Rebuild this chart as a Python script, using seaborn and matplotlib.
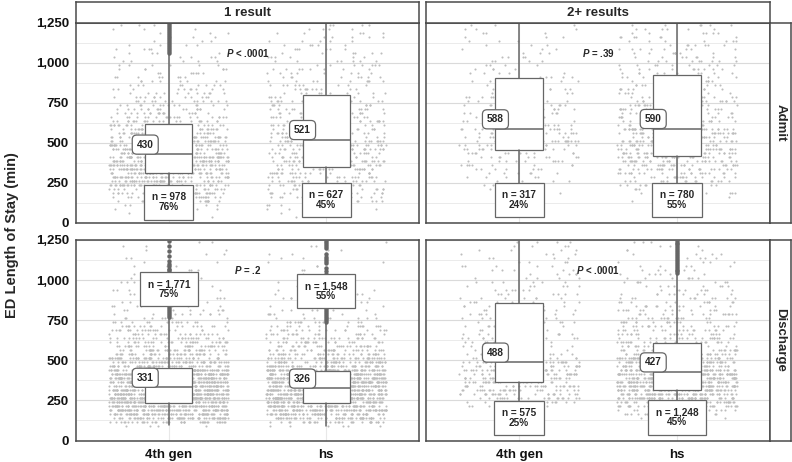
import numpy as np
import pandas as pd
import matplotlib
matplotlib.use("Agg")
import matplotlib.pyplot as plt
from matplotlib.ticker import MultipleLocator, FuncFormatter
import seaborn as sns

# -------------------- data --------------------
DEVICES = ["4th gen", "hs"]
RESULT_GROUPS = ["1 result", "2+ results"]
OUTCOMES = ["Admit", "Discharge"]
P_TEXT = ["< .0001", "= .39", "= .2", "< .0001"]   # panel order: TL, TR, BL, BR

BIN_WIDTH = 25   # point counts per 25-min bin, 0..1250
admit_1_4g = [0, 1, 3, 6, 10, 16, 22, 28, 33, 38,
              42, 46, 50, 50, 50, 50, 50, 45, 38, 36,
              34, 32, 30, 28, 26, 22, 20, 18, 16, 14,
              13, 12, 11, 10, 9, 8, 8, 7, 6, 6,
              5, 5, 4, 4, 4, 3, 3, 3, 3, 3]
admit_1_hs = [0, 1, 2, 3, 5, 7, 9, 11, 13, 15,
              17, 18, 19, 20, 22, 22, 22, 22, 22, 22,
              22, 16, 16, 15, 15, 14, 14, 14, 13, 13,
              12, 12, 10, 10, 9, 9, 8, 8, 8, 7,
              7, 6, 6, 6, 5, 5, 5, 5, 4, 4]
admit_2_4g = [0, 0, 0, 0, 0, 0, 0, 1, 2, 3,
              4, 5, 6, 7, 8, 9, 10, 11, 12, 16,
              16, 16, 16, 16, 8, 8, 7, 7, 7, 7,
              6, 6, 6, 6, 6, 5, 5, 5, 4, 4,
              4, 4, 3, 3, 3, 3, 3, 3, 3, 3]
admit_2_hs = [0, 0, 0, 0, 0, 2, 4, 6, 9, 12,
              15, 18, 20, 22, 24, 26, 27, 28, 28, 28,
              28, 28, 28, 28, 18, 18, 17, 17, 16, 16,
              15, 15, 14, 14, 13, 12, 11, 10, 10, 9,
              9, 8, 8, 8, 7, 7, 7, 6, 6, 6]
disch_1_4g = [0, 0, 0, 4, 38, 62, 76, 85, 90, 88,
              110, 110, 110, 110, 105, 100, 95, 90, 55, 50,
              45, 40, 36, 32, 28, 25, 22, 20, 18, 16,
              10, 9, 8, 7, 6, 6, 5, 5, 4, 4,
              3, 3, 3, 3, 2, 2, 2, 2, 2, 2]
disch_1_hs = [0, 0, 0, 6, 30, 52, 66, 76, 80, 75,
              97, 97, 97, 97, 100, 96, 92, 88, 58, 46,
              40, 35, 31, 27, 24, 21, 19, 17, 15, 13,
              8, 7, 6, 6, 5, 5, 4, 4, 3, 3,
              2, 2, 2, 2, 2, 2, 2, 2, 2, 2]
disch_2_4g = [0, 0, 0, 0, 0, 0, 0, 0, 8, 14,
              20, 24, 26, 27, 25, 29, 29, 29, 29, 29,
              12, 12, 11, 11, 10, 10, 10, 9, 9, 9,
              9, 8, 8, 8, 8, 7, 7, 6, 6, 6,
              5, 5, 5, 5, 4, 4, 4, 4, 4, 4]
disch_2_hs = [0, 0, 0, 0, 0, 3, 10, 22, 36, 48,
              58, 64, 70, 78, 78, 78, 78, 60, 50, 44,
              40, 36, 32, 28, 22, 20, 19, 18, 17, 16,
              15, 14, 13, 12, 11, 10, 9, 8, 8, 7,
              7, 6, 5, 5, 4, 4, 4, 3, 3, 3]

# group order: admit 1 (4g, hs), admit 2+ (4g, hs), discharge 1 (4g, hs), discharge 2+ (4g, hs)
medians = [430, 521, 588, 590, 331, 326, 488, 427]
q1 = [310, 347, 458, 416, 236, 233, 367, 317]
q3 = [617, 797, 905, 922, 452, 433, 858, 608]
whislo = [60, 40, 190, 130, 94, 90, 200, 145]
whishi = [1060, 1400, 1400, 1400, 765, 735, 1400, 1040]
n_obs = [978, 627, 317, 780, 1771, 1548, 575, 1248]
pct = [76, 45, 24, 55, 75, 55, 25, 45]
n_label_y = [130, 143, 143, 143, 944, 931, 141, 145]

fliers_admit_1_4g = [1065, 1078, 1090, 1103, 1115, 1128, 1140, 1153, 1165, 1178,
                     1190, 1203, 1215, 1228, 1240, 1250]
fliers_disch_1_4g = [772, 784, 796, 808, 820, 832, 844, 856, 868, 880, 892, 904,
                     916, 928, 940, 952, 964, 976, 988, 1000, 1012, 1024, 1036,
                     1048, 1060, 1072, 1085, 1098, 1119, 1150, 1181, 1212, 1244]
fliers_disch_1_hs = [740, 752, 764, 776, 788, 800, 812, 824, 836, 848, 860, 872,
                     884, 896, 908, 920, 932, 944, 956, 968, 980, 1000, 1018, 1037,
                     1056, 1077, 1108, 1120, 1134, 1147, 1160, 1202, 1214, 1226,
                     1238, 1250]
fliers_disch_2_hs = [1042, 1054, 1066, 1078, 1090, 1102, 1114, 1126, 1138, 1150,
                     1162, 1174, 1186, 1198, 1210, 1222, 1234, 1246]
# ------------------------------------------------------------------

counts = [admit_1_4g, admit_1_hs, admit_2_4g, admit_2_hs,
          disch_1_4g, disch_1_hs, disch_2_4g, disch_2_hs]
fliers = [fliers_admit_1_4g, [], [], [], fliers_disch_1_4g, fliers_disch_1_hs, [], fliers_disch_2_hs]

centers = np.arange(len(admit_1_4g)) * BIN_WIDTH + BIN_WIDTH / 2
rows = []
g = 0
for outcome in OUTCOMES:
    for res in RESULT_GROUPS:
        for dev in DEVICES:
            vals = np.repeat(centers, counts[g])
            rows.append(pd.DataFrame({"outcome": outcome, "results": res, "device": dev, "los": vals}))
            g += 1
df = pd.concat(rows, ignore_index=True)

sns.set_style("white")
plt.rcParams["font.family"] = ["Liberation Sans", "DejaVu Sans"]
plt.rcParams["font.weight"] = "bold"
plt.rcParams["mathtext.fontset"] = "custom"
plt.rcParams["mathtext.it"] = "Liberation Sans:italic:bold"
plt.rcParams["mathtext.rm"] = "Liberation Sans:bold"

W, H = 792, 462
fig = plt.figure(figsize=(W / 100, H / 100), dpi=100)

def px_axes(x0, y0, x1, y1):
    return fig.add_axes([x0 / W, 1 - y1 / H, (x1 - x0) / W, (y1 - y0) / H])

EDGE = "#4a4a4a"
LINE = "#666666"
col_px = [(76, 419), (426, 770)]
row_px = [(23, 223), (240, 440.5)]

g = 0
panel = 0
for r, outcome in enumerate(OUTCOMES):
    for c, res in enumerate(RESULT_GROUPS):
        ax = px_axes(col_px[c][0], row_px[r][0], col_px[c][1], row_px[r][1])
        sub = df[(df.outcome == outcome) & (df.results == res)]
        sns.stripplot(data=sub, x="device", y="los", order=DEVICES, jitter=0.38,
                      size=1.5, color="#bdbdbd", linewidth=0, ax=ax, zorder=1)

        stats = []
        for k in range(2):
            i = g + k
            stats.append(dict(med=medians[i], q1=q1[i], q3=q3[i], whislo=whislo[i],
                              whishi=whishi[i], fliers=fliers[i]))
        ax.bxp(stats, positions=[0, 1], widths=0.3, patch_artist=True, showcaps=False,
               boxprops=dict(facecolor="white", edgecolor=LINE, linewidth=0.9),
               whiskerprops=dict(color=LINE, linewidth=1.1),
               medianprops=dict(color=LINE, linewidth=1.1),
               flierprops=dict(marker="o", markersize=3.2, markerfacecolor="#666666",
                               markeredgecolor="none"),
               manage_ticks=False, zorder=3)

        for k in range(2):
            i = g + k
            ax.text(k - 0.15, medians[i] + 60, str(medians[i]), ha="center", va="center",
                    fontsize=7.3, zorder=6,
                    bbox=dict(boxstyle="round,pad=0.45,rounding_size=0.45", fc="white",
                              ec=LINE, lw=0.9))
            ax.text(k, n_label_y[i], f"n = {n_obs[i]:,}\n{pct[i]}%", ha="center", va="center",
                    fontsize=7.2, linespacing=0.95, zorder=6,
                    bbox=dict(boxstyle="square,pad=0.75", fc="white", ec=LINE, lw=0.9))
        ax.text(0.5, 1060, r"$P$ " + P_TEXT[panel], ha="center", va="center", fontsize=7, zorder=6)

        ax.set_xlim(-0.59, 1.59)
        ax.set_ylim(0, 1250)
        ax.yaxis.set_major_locator(MultipleLocator(250))
        ax.yaxis.set_minor_locator(MultipleLocator(125))
        ax.yaxis.set_major_formatter(FuncFormatter(lambda v, p: f"{int(v):,}"))
        ax.set_axisbelow(True)
        ax.grid(which="major", axis="y", color="#dadada", linewidth=0.8)
        ax.grid(which="minor", axis="y", color="#e8e8e8", linewidth=0.6)
        ax.grid(which="major", axis="x", color="#e8e8e8", linewidth=0.8)
        ax.set_xlabel("")
        ax.set_ylabel("")
        ax.set_xticks([0, 1])
        ax.set_xticklabels(DEVICES)
        ax.tick_params(which="minor", length=0)
        ax.tick_params(axis="both", which="major", length=3, width=0.9, color=EDGE,
                       labelsize=9.5, pad=2, labelcolor="#111111")
        ax.tick_params(axis="x", labelsize=9.5, pad=3)
        if c == 1:
            ax.tick_params(axis="y", left=False, labelleft=False)
        if r == 0:
            ax.tick_params(axis="x", bottom=False, labelbottom=False)
        for s in ax.spines.values():
            s.set_color(EDGE)
            s.set_linewidth(1.1)

        g += 2
        panel += 1

# facet strips
for c, res in enumerate(RESULT_GROUPS):
    sax = px_axes(col_px[c][0], 1.5, col_px[c][1], 23)
    sax.set_xticks([]); sax.set_yticks([])
    sax.text(0.5, 0.45, res, ha="center", va="center", fontsize=9.5, transform=sax.transAxes)
    for s in sax.spines.values():
        s.set_color(EDGE); s.set_linewidth(1.1)
for r, outcome in enumerate(OUTCOMES):
    sax = px_axes(770, row_px[r][0], 791, row_px[r][1])
    sax.set_xticks([]); sax.set_yticks([])
    sax.text(0.5, 0.5, outcome, ha="center", va="center", rotation=270, fontsize=9.5,
             transform=sax.transAxes)
    for s in sax.spines.values():
        s.set_color(EDGE); s.set_linewidth(1.1)

fig.text(12 / W, 1 - 235 / H, "ED Length of Stay (min)", rotation=90, ha="center",
         va="center", fontsize=10.5)

fig.savefig("out.png", dpi=100)
